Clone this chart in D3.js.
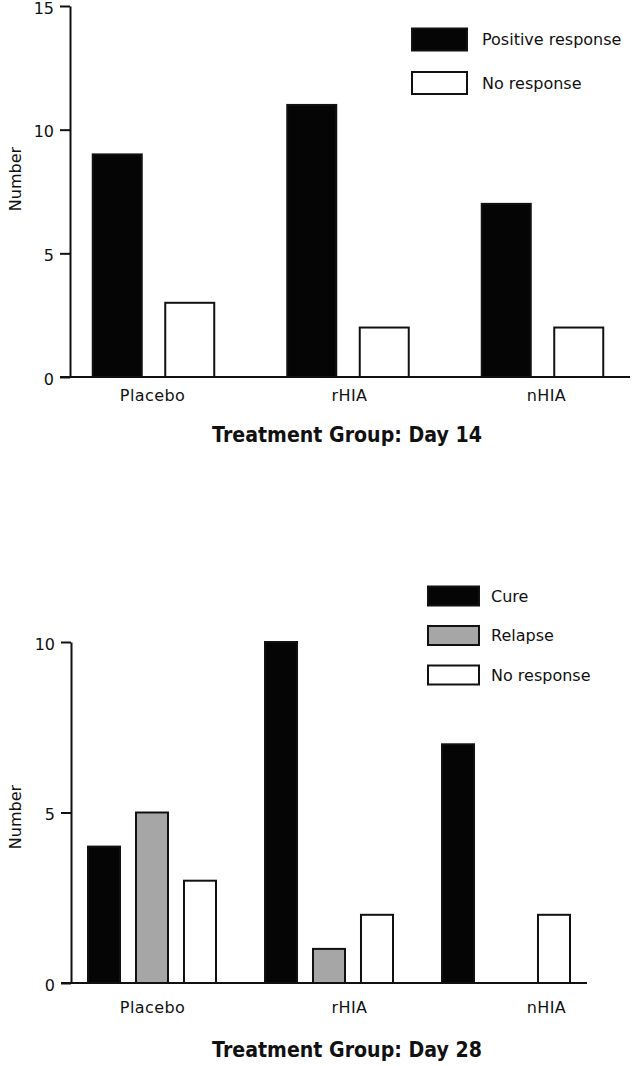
<!DOCTYPE html>
<html>
<head>
<meta charset="utf-8">
<script src="https://cdn.jsdelivr.net/npm/d3@7"></script>
<style>
  html, body { margin: 0; padding: 0; background: #fff; }
  svg { display: block; }
  text { font-family: "DejaVu Sans", sans-serif; fill: #111; }
</style>
</head>
<body>
<svg id="chart" width="634" height="1066"></svg>
<script>
// ---- Data ----
const groups = ["Placebo", "rHIA", "nHIA"];

// Day 14
const day14Series = ["Positive response", "No response"];
const day14Positive = [9, 11, 7];
const day14NoResponse = [3, 2, 2];
const day14Ticks = [0, 5, 10, 15];

// Day 28
const day28Series = ["Cure", "Relapse", "No response"];
const day28Cure = [4, 10, 7];
const day28Relapse = [5, 1, 0];
const day28NoResponse = [3, 2, 2];
const day28Ticks = [0, 5, 10];

const fills = { "Positive response": "#050505", "Cure": "#050505", "Relapse": "#a6a6a6", "No response": "#ffffff" };

const svg = d3.select("#chart");

// shared category label positions
const labelX = d3.scalePoint().domain(groups).range([152, 546]);

function drawPanel(cfg) {
  const g = svg.append("g");
  const y = d3.scaleLinear().domain(cfg.yDomain).range([cfg.y0, cfg.y1]);
  const x0 = d3.scaleBand().domain(groups).range(cfg.xRange);
  const x1 = d3.scaleBand().domain(cfg.series).range(cfg.subRange).paddingInner(cfg.subPad);

  const rows = groups.map((grp, i) => ({ grp, vals: cfg.series.map((s, j) => ({ s, v: cfg.values[j][i] })) }));

  const gg = g.selectAll("g.grp").data(rows).join("g")
    .attr("transform", d => `translate(${x0(d.grp)},0)`);
  gg.selectAll("rect").data(d => d.vals.filter(e => e.v > 0)).join("rect")
    .attr("x", d => x1(d.s))
    .attr("y", d => y(d.v))
    .attr("width", x1.bandwidth())
    .attr("height", d => y(0) - y(d.v))
    .attr("fill", d => fills[d.s])
    .attr("stroke", "#111")
    .attr("stroke-width", 2);

  // y axis
  const ya = g.append("g").attr("transform", `translate(${cfg.axisX},0)`)
    .call(d3.axisLeft(y).tickValues(cfg.ticks).tickSize(10).tickSizeOuter(0).tickPadding(6).tickFormat(d3.format("d")));
  ya.select(".domain").attr("stroke", "#111").attr("stroke-width", 2);
  ya.selectAll(".tick line").attr("stroke", "#111").attr("stroke-width", 2);
  ya.selectAll(".tick text").attr("font-size", 16).attr("dy", "0.45em")
    .attr("font-family", "DejaVu Sans, sans-serif").attr("fill", "#111");

  // baseline
  g.append("line").attr("x1", cfg.baseX[0]).attr("x2", cfg.baseX[1])
    .attr("y1", y(0)).attr("y2", y(0)).attr("stroke", "#111").attr("stroke-width", 2);

  // x category labels
  const xa = g.append("g").attr("transform", `translate(0,${y(0)})`)
    .call(d3.axisBottom(labelX).tickSize(0).tickPadding(cfg.labelPad));
  xa.select(".domain").remove();
  xa.selectAll(".tick text").attr("font-size", 16).attr("letter-spacing", "0.4px")
    .attr("font-family", "DejaVu Sans, sans-serif").attr("fill", "#111");

  // y title
  g.append("text").attr("transform", `translate(${cfg.yTitle[0]},${cfg.yTitle[1]}) rotate(-90)`)
    .attr("text-anchor", "middle").attr("dominant-baseline", "central")
    .attr("font-size", 16).text("Number");

  // title
  g.append("text").attr("x", cfg.title[0]).attr("y", cfg.title[1])
    .attr("dominant-baseline", "central").attr("font-size", 21).attr("font-weight", "bold")
    .attr("textLength", 270).attr("lengthAdjust", "spacingAndGlyphs")
    .text(cfg.titleText);

  // legend
  const lg = g.selectAll("g.leg").data(cfg.series).join("g")
    .attr("transform", (d, i) => `translate(${cfg.legend.x},${cfg.legend.y + i * cfg.legend.step})`);
  lg.append("rect").attr("x", 0).attr("y", -cfg.legend.h / 2)
    .attr("width", cfg.legend.w).attr("height", cfg.legend.h)
    .attr("fill", d => fills[d]).attr("stroke", "#111").attr("stroke-width", 2);
  lg.append("text").attr("x", cfg.legend.w + cfg.legend.gap).attr("y", 0)
    .attr("dominant-baseline", "central").attr("font-size", 16).text(d => d);
}

drawPanel({
  series: day14Series,
  values: [day14Positive, day14NoResponse],
  yDomain: [0, 15], y0: 377, y1: 6, ticks: day14Ticks,
  xRange: [56.25, 639.75], subRange: [36.5, 158], subPad: 0.324,
  axisX: 70, baseX: [60, 630], labelPad: 13,
  yTitle: [15, 179],
  title: [212, 435], titleText: "Treatment Group: Day 14",
  legend: { x: 412, y: 39.5, step: 43.5, w: 55, h: 22, gap: 15 }
});

drawPanel({
  series: day28Series,
  values: [day28Cure, day28Relapse, day28NoResponse],
  yDomain: [0, 10], y0: 983, y1: 642, ticks: day28Ticks,
  xRange: [63.5, 594.5], subRange: [24.5, 152.5], subPad: 0.333,
  axisX: 71, baseX: [61, 587], labelPad: 19,
  yTitle: [15, 817],
  title: [212, 1050], titleText: "Treatment Group: Day 28",
  legend: { x: 428, y: 596, step: 39.5, w: 51, h: 19, gap: 12 }
});
</script>
</body>
</html>
